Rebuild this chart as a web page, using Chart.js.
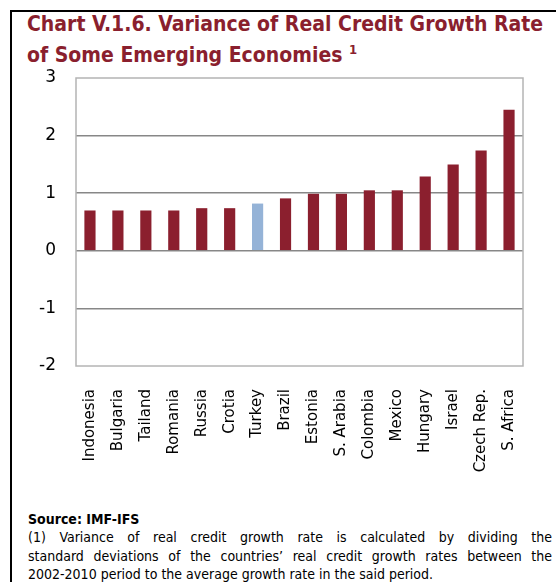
<!DOCTYPE html>
<html>
<head>
<meta charset="utf-8">
<script src="https://cdn.jsdelivr.net/npm/chart.js@4"></script>
<style>
  body { margin: 0; background: #fff; width: 556px; height: 582px; overflow: hidden; position: relative; }
  #frame { position: absolute; left: 10px; top: 10px; width: 560px; height: 600px;
           border-top: 2px solid #000; border-left: 2px solid #000; }
  #title { position: absolute; left: 27px; top: 12px; color: #8a1f2e; font: bold 21px "DejaVu Sans Condensed", "DejaVu Sans", sans-serif; line-height: 25px; white-space: nowrap; }
  #title sup { font-size: 13px; vertical-align: 8px; }
  #chartBox { position: absolute; left: 0; top: 60px; width: 556px; height: 440px; }
  #notes { position: absolute; left: 28px; top: 510px; width: 524px; font: 14px "DejaVu Sans Condensed", "DejaVu Sans", sans-serif; color: #000; }
  #notes .src { font-weight: bold; line-height: 18px; }
  #notes .ln { text-align: justify; text-align-last: justify; line-height: 18.5px; white-space: nowrap; }
  #notes .ln.last { text-align-last: left; }
</style>
</head>
<body>
<div id="frame"></div>
<div id="title">Chart V.1.6. Variance of Real Credit Growth Rate<br>of Some Emerging Economies <sup>1</sup></div>
<div id="chartBox"><canvas id="varianceChart"></canvas></div>
<div id="notes">
  <div class="src">Source: IMF-IFS</div>
  <div class="ln">(1) Variance of real credit growth rate is calculated by dividing the</div>
  <div class="ln">standard deviations of the countries’ real credit growth rates between the</div>
  <div class="ln last">2002-2010 period to the average growth rate in the said period.</div>
</div>
<script>
// countries and their credit growth variance
const countries = ["Indonesia", "Bulgaria", "Tailand", "Romania", "Russia", "Crotia", "Turkey",
  "Brazil", "Estonia", "S. Arabia", "Colombia", "Mexico", "Hungary", "Israel", "Czech Rep.", "S. Africa"];
const variance = [0.70, 0.70, 0.70, 0.70, 0.74, 0.74, 0.82, 0.91, 0.99, 0.99, 1.05, 1.05, 1.29, 1.50, 1.74, 2.45];
const highlighted = "Turkey";
const yTicks = [-2, -1, 0, 1, 2, 3];

const maroon = "#8b1f2e";
const lightBlue = "#95b3d7";

// light grey box around the plot area
const plotBorder = {
  id: "plotBorder",
  afterDraw(chart) {
    const { ctx, chartArea: a } = chart;
    ctx.save();
    ctx.strokeStyle = "#b4b4b4";
    ctx.lineWidth = 1.5;
    ctx.strokeRect(a.left, a.top, a.right - a.left, a.bottom - a.top);
    ctx.restore();
  }
};

const canvas = document.getElementById("varianceChart");
new Chart(canvas.getContext("2d"), {
  type: "bar",
  data: {
    labels: countries,
    datasets: [{
      data: variance,
      backgroundColor: countries.map((c) => (c === highlighted ? lightBlue : maroon)),
      barPercentage: 0.4,
      categoryPercentage: 1.0,
    }],
  },
  options: {
    responsive: true,
    maintainAspectRatio: false,
    animation: false,
    layout: { padding: { top: 18, right: 33, left: 0, bottom: 0 } },
    scales: {
      y: {
        min: -2,
        max: 3,
        afterBuildTicks: (scale) => { scale.ticks = yTicks.map((v) => ({ value: v })); },
        afterFit: (scale) => {
          scale.width = 76;
          scale.paddingTop = 0;
          scale.paddingBottom = 0;
        },
        ticks: { color: "#000", padding: 20, font: { family: "DejaVu Sans", size: 17 } },
        grid: {
          drawTicks: false,
          color: (c) => (c.tick && (c.tick.value === 3 || c.tick.value === -2) ? "rgba(0,0,0,0)" : "#878787"),
          lineWidth: 1.5,
        },
        border: { display: false },
      },
      x: {
        afterFit: (scale) => {
          scale.height = 134;
          scale.paddingLeft = 0;
          scale.paddingRight = 0;
          scale.paddingTop = 0;
        },
        ticks: {
          color: "#000",
          minRotation: 90,
          maxRotation: 90,
          padding: 15,
          autoSkip: false,
          font: { family: "DejaVu Sans", size: 15 },
        },
        grid: { display: false },
        border: { display: false },
      },
    },
    plugins: {
      legend: { display: false },
      tooltip: { enabled: false },
    },
  },
  plugins: [plotBorder],
});
</script>
</body>
</html>
